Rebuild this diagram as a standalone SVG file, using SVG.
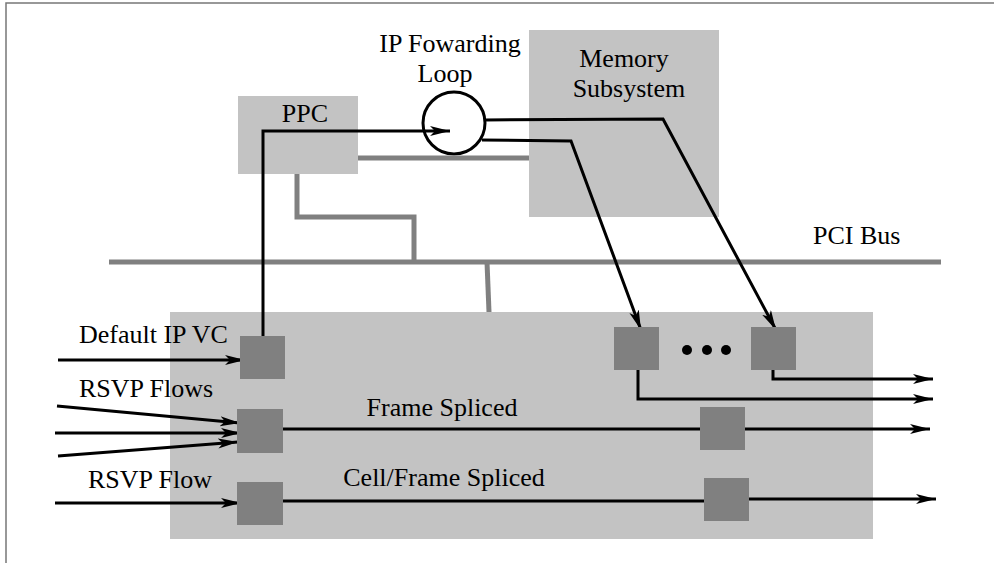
<svg xmlns="http://www.w3.org/2000/svg" width="994" height="563" viewBox="0 0 994 563">
<style>
.lt{fill:#c3c3c3}
.dk{fill:#808080}
.bus{stroke:#808080;stroke-width:5;fill:none}
.ln{stroke:#000;stroke-width:3;fill:none}
.ar{marker-end:url(#ah)}
text{font-family:"Liberation Serif","Times New Roman",serif;font-size:26px;fill:#000}
.c{text-anchor:middle}
</style>
<defs>
<marker id="ah" markerUnits="userSpaceOnUse" markerWidth="22" markerHeight="12" refX="20" refY="5" orient="auto">
<path d="M0,0 L20,5 L0,10 L5,5 Z" fill="#000"/>
</marker>
</defs>
<rect width="994" height="563" fill="#fff"/>
<path d="M6,563 V3 H994" stroke="#777" stroke-width="1.5" fill="none"/>

<g id="ppc"><rect class="lt" x="238" y="96" width="120" height="78"/><text class="c" x="305" y="122">PPC</text></g>
<g id="memory"><rect class="lt" x="529" y="30" width="190" height="187"/><text class="c" x="624" y="67">Memory</text><text class="c" x="629" y="97">Subsystem</text></g>
<g id="loop"><circle cx="454" cy="123" r="31" fill="#fff" stroke="#000" stroke-width="3"/><text class="c" x="450" y="52">IP Fowarding</text><text class="c" x="445" y="82">Loop</text></g>
<g id="pcibus"><line class="bus" x1="109" y1="262" x2="941" y2="262"/><text x="813" y="244">PCI Bus</text></g>
<g id="linecard"><rect class="lt" x="170" y="312" width="703" height="227"/></g>

<g id="connectors">
<line class="bus" x1="358" y1="158" x2="529" y2="158"/>
<polyline class="bus" points="297,174 297,217 414,217 414,262"/>
<line class="bus" x1="487" y1="262" x2="489" y2="312"/>
<polyline class="ln ar" points="263,336 263,131 450,131"/>
<polyline class="ln ar" points="485,120 663,119 776,330"/>
<polyline class="ln ar" points="482,140 571,141 641,330"/>
<line class="ln ar" x1="58" y1="360" x2="245" y2="360"/>
<line class="ln ar" x1="57" y1="406" x2="240" y2="423"/>
<line class="ln ar" x1="55" y1="433" x2="241" y2="433"/>
<line class="ln ar" x1="58" y1="456" x2="238" y2="442"/>
<line class="ln ar" x1="55" y1="503" x2="241" y2="503"/>
<line class="ln ar" x1="283" y1="429" x2="930" y2="429"/>
<line class="ln" x1="283" y1="501" x2="704" y2="501"/>
<line class="ln ar" x1="749" y1="499" x2="936" y2="499"/>
<polyline class="ln ar" points="638,370 638,399 933,399"/>
<polyline class="ln ar" points="773,370 773,379 933,379"/>
</g>

<g id="port-default"><rect class="dk" x="240" y="336" width="45" height="43"/><text x="79" y="343">Default IP VC</text></g>
<g id="port-rsvp"><rect class="dk" x="237" y="409" width="46" height="44"/><text x="79" y="397">RSVP Flows</text></g>
<g id="port-rsvp1"><rect class="dk" x="237" y="482" width="46" height="43"/><text x="88" y="488">RSVP Flow</text></g>
<g id="out1"><rect class="dk" x="614" y="327" width="45" height="43"/></g>
<g id="out2"><rect class="dk" x="751" y="327" width="45" height="43"/></g>
<g id="dots"><circle cx="687" cy="350" r="5"/><circle cx="707" cy="350" r="5"/><circle cx="726" cy="350" r="5"/></g>
<g id="frame-splice"><rect class="dk" x="700" y="407" width="45" height="43"/><text class="c" x="442" y="416">Frame Spliced</text></g>
<g id="cell-splice"><rect class="dk" x="704" y="478" width="45" height="43"/><text class="c" x="444" y="486">Cell/Frame Spliced</text></g>
</svg>
